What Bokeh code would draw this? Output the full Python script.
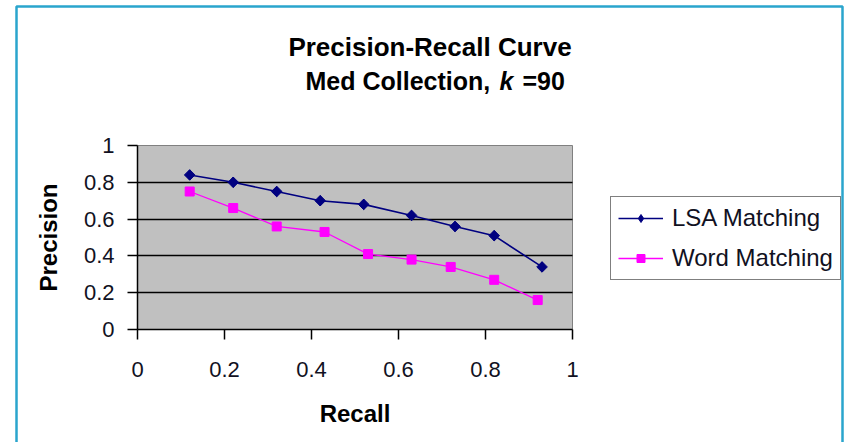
import math
from bokeh.plotting import figure
from bokeh.models import FixedTicker, Label, Legend, LegendItem, Range1d
from bokeh.embed import file_html
from bokeh.resources import INLINE

# ---------------- data ----------------
series_names = ["LSA Matching", "Word Matching"]
recall_lsa = [0.12, 0.22, 0.32, 0.42, 0.52, 0.63, 0.73, 0.82, 0.93]
prec_lsa = [0.84, 0.80, 0.75, 0.70, 0.68, 0.62, 0.56, 0.51, 0.34]
recall_word = [0.12, 0.22, 0.32, 0.43, 0.53, 0.63, 0.72, 0.82, 0.92]
prec_word = [0.75, 0.66, 0.56, 0.53, 0.41, 0.38, 0.34, 0.27, 0.16]
tick_values = [0, 0.2, 0.4, 0.6, 0.8, 1]
tick_labels = ["0", "0.2", "0.4", "0.6", "0.8", "1"]
grid_values = [0.2, 0.4, 0.6, 0.8]
title_line1 = "Precision-Recall Curve"
title_line2a = "Med Collection,"
title_line2k = "k"
title_line2b = "=90"
x_title = "Recall"
y_title = "Precision"

# ---------------- layout ----------------
W, H = 846, 442
# pixel positions of the plot area (value 0..1 on both axes)
PL, PR, PT, PB = 137, 572, 145, 329
FONT = "Liberation Sans"
NAVY = "#000080"
MAGENTA = "#FF00FF"


def sx(px):
    return (px - PL) / (PR - PL)


def sy(py):
    return (PB - py) / (PB - PT)


p = figure(width=W, height=H,
           x_range=Range1d(sx(0), sx(W)), y_range=Range1d(sy(H), sy(0)),
           output_backend="svg", toolbar_location=None, min_border=0)
p.background_fill_color = "white"
p.border_fill_color = "white"
p.outline_line_color = None

# outer chart border
p.quad(left=[sx(16)], right=[sx(842)], top=[sy(6)], bottom=[sy(470)],
       fill_color=None, line_color="#2AA5CD", line_width=2.5, level="underlay")

# plot area (grey) with its grey border
p.quad(left=[0], right=[1], bottom=[0], top=[1], fill_color="#C0C0C0",
       line_color="#808080", line_width=1, level="underlay")

p.xgrid.visible = False
p.ygrid.ticker = FixedTicker(ticks=grid_values)
p.ygrid.bounds = (0, 1)
p.ygrid.cross_bounds = (0, 1)
p.ygrid.grid_line_color = "black"
p.ygrid.grid_line_width = 1.5
p.ygrid.level = "underlay"

overrides = {v: l for v, l in zip(tick_values, tick_labels)}
for ax in (p.xaxis[0], p.yaxis[0]):
    ax.fixed_location = 0
    ax.bounds = (0, 1)
    ax.ticker = FixedTicker(ticks=tick_values)
    ax.major_label_overrides = overrides
    ax.axis_line_color = "black"
    ax.axis_line_width = 1.5
    ax.major_tick_line_color = "black"
    ax.major_tick_line_width = 1.5
    ax.major_tick_out = 10
    ax.major_tick_in = 0
    ax.minor_tick_line_color = None
    ax.major_label_text_font = FONT
    ax.major_label_text_font_size = "22px"
    ax.major_label_text_color = "#111122"
    ax.axis_label_text_font = FONT
    ax.axis_label_text_font_size = "24px"
    ax.axis_label_text_font_style = "bold"
    ax.axis_label_text_color = "black"

p.xaxis.axis_label = x_title
p.yaxis.axis_label = y_title
p.xaxis.major_label_standoff = 22
p.xaxis.axis_label_standoff = 20
p.yaxis.major_label_standoff = 13
p.yaxis.axis_label_standoff = 19

# ---------------- series ----------------
l1 = p.line(recall_lsa, prec_lsa, line_color=NAVY, line_width=1.6)
# diamond glyph (used by the legend), covered by the larger rotated squares
k1 = p.scatter(recall_lsa, prec_lsa, marker="diamond", size=10,
               fill_color=NAVY, line_color=NAVY)
m1 = p.scatter(recall_lsa, prec_lsa, marker="square", angle=math.pi / 4, size=7.5,
               fill_color=NAVY, line_color=NAVY)
l2 = p.line(recall_word, prec_word, line_color=MAGENTA, line_width=1.3)
m2 = p.scatter(recall_word, prec_word, marker="square", size=9,
               fill_color=MAGENTA, line_color=MAGENTA)

legend = Legend(items=[LegendItem(label=series_names[0], renderers=[l1, k1]),
                       LegendItem(label=series_names[1], renderers=[l2, m2])],
                location=(610, H - 280))
legend.label_text_font = FONT
legend.label_text_font_size = "24px"
legend.label_text_color = "#111122"
legend.glyph_width = 45
legend.glyph_height = 20
legend.label_standoff = 9
legend.spacing = 12
legend.padding = 7
legend.margin = 0
legend.border_line_color = "black"
legend.border_line_width = 1.5
legend.background_fill_color = "white"
legend.background_fill_alpha = 1
p.add_layout(legend, "center")

# ---------------- titles ----------------
p.add_layout(Label(x=sx(429.5), y=sy(46), text=title_line1, text_align="center",
                   text_baseline="alphabetic", text_font=FONT, text_font_size="26px",
                   text_font_style="bold", text_color="black"))
p.add_layout(Label(x=sx(305), y=sy(80), text=title_line2a, text_align="left",
                   text_baseline="alphabetic", text_font=FONT, text_font_size="25px",
                   text_font_style="bold", text_color="black"))
p.add_layout(Label(x=sx(499), y=sy(80), text=title_line2k, text_align="left",
                   text_baseline="alphabetic", text_font=FONT, text_font_size="25px",
                   text_font_style="bold italic", text_color="black"))
p.add_layout(Label(x=sx(522), y=sy(80), text=title_line2b, text_align="left",
                   text_baseline="alphabetic", text_font=FONT, text_font_size="25px",
                   text_font_style="bold", text_color="black"))

open("out.html", "w").write(file_html(p, INLINE))
